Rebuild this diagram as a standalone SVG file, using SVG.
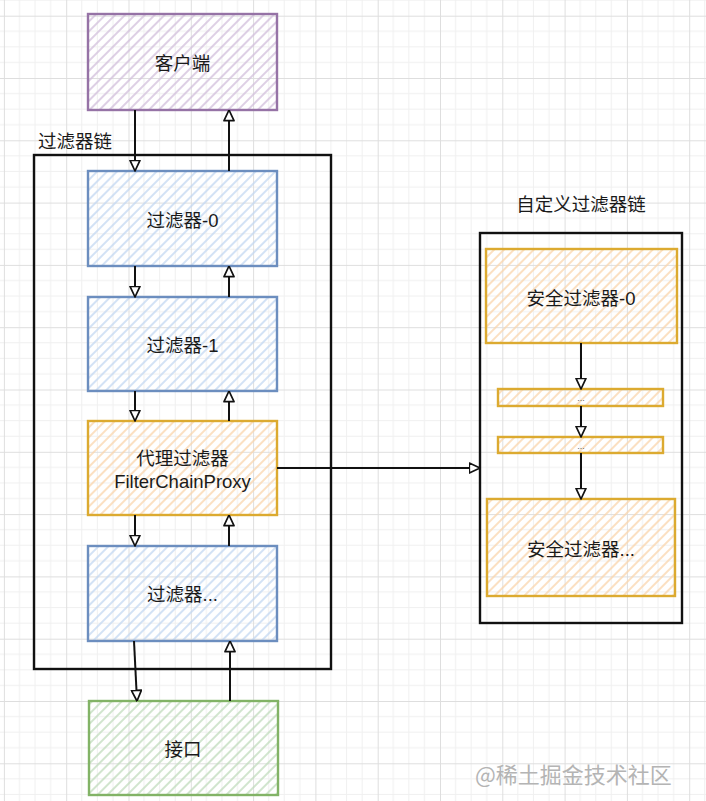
<svg xmlns="http://www.w3.org/2000/svg" width="706" height="801" viewBox="0 0 706 801">
<defs>
<pattern id="grid" patternUnits="userSpaceOnUse" x="3.9" y="15.7" width="62.3" height="62.3">
<path d="M15.575 0V62.3M31.15 0V62.3M46.725 0V62.3M0 15.575H62.3M0 31.15H62.3M0 46.725H62.3" stroke="#f0f0f0" stroke-width="1" fill="none"/>
<path d="M0.5 0V62.3M0 0.5H62.3" stroke="#dedede" stroke-width="1" fill="none"/>
</pattern>
<pattern id="hp" patternUnits="userSpaceOnUse" width="7" height="7" patternTransform="rotate(45)"><line x1="1" y1="0" x2="1" y2="7" stroke="#d3c0dc" stroke-width="1.5"/></pattern>
<pattern id="hb" patternUnits="userSpaceOnUse" width="7" height="7" patternTransform="rotate(45)"><line x1="1" y1="0" x2="1" y2="7" stroke="#c4d9f2" stroke-width="1.5"/></pattern>
<pattern id="ho" patternUnits="userSpaceOnUse" width="7" height="7" patternTransform="rotate(45)"><line x1="1" y1="0" x2="1" y2="7" stroke="#fad6ad" stroke-width="1.5"/></pattern>
<pattern id="hg" patternUnits="userSpaceOnUse" width="7" height="7" patternTransform="rotate(45)"><line x1="1" y1="0" x2="1" y2="7" stroke="#c2ddbd" stroke-width="1.5"/></pattern>
<marker id="arr" viewBox="0 0 12 12" refX="11.5" refY="6" markerWidth="12" markerHeight="12" markerUnits="userSpaceOnUse" orient="auto">
<path d="M0.8,1 L11.5,6 L0.8,11 Z" fill="#fff" stroke="#111" stroke-width="1.7" stroke-linejoin="round"/>
</marker>
</defs>
<style>
.t{font-family:"Helvetica","Liberation Sans","Noto Sans CJK SC",sans-serif;font-size:18.5px;fill:#1a1a1a;text-anchor:middle;dominant-baseline:central}
.tl{font-family:"Helvetica","Liberation Sans","Noto Sans CJK SC",sans-serif;font-size:18.5px;fill:#1a1a1a}
.purple{fill:url(#hp);stroke:#9673a6;stroke-width:2.4}
.blue{fill:url(#hb);stroke:#6c8ebf;stroke-width:2.4}
.orange{fill:url(#ho);stroke:#dcaa30;stroke-width:2.4}
.green{fill:url(#hg);stroke:#82b366;stroke-width:2.4}
.frame{fill:none;stroke:#111;stroke-width:2.4}
.c{fill:none;stroke:#111;stroke-width:2;marker-end:url(#arr)}
.wm{font-family:"Noto Sans CJK SC","Liberation Sans",sans-serif;font-size:22px;fill:#b4b4b4}
</style>
<rect width="706" height="801" fill="#fff"/>
<rect width="706" height="801" fill="url(#grid)"/>

<g id="chain">
<rect class="frame" x="34" y="155" width="297" height="514"/>
<text class="tl" x="38" y="148">过滤器链</text>
</g>
<g id="custom-chain">
<rect class="frame" x="480" y="233" width="202" height="390"/>
<text class="t" x="581" y="204">自定义过滤器链</text>
</g>

<g id="client">
<rect class="purple" x="88" y="14" width="189" height="96"/>
<text class="t" x="182.5" y="63">客户端</text>
</g>
<g id="filter0">
<rect class="blue" x="88" y="171" width="189" height="95"/>
<text class="t" x="182.5" y="220">过滤器-0</text>
</g>
<g id="filter1">
<rect class="blue" x="88" y="297" width="189" height="94"/>
<text class="t" x="182.5" y="345">过滤器-1</text>
</g>
<g id="proxy">
<rect class="orange" x="88" y="421" width="189" height="94"/>
<text class="t" x="182.5" y="458">代理过滤器</text>
<text class="t" x="182.5" y="481">FilterChainProxy</text>
</g>
<g id="filterN">
<rect class="blue" x="88" y="546" width="189" height="95"/>
<text class="t" x="182.5" y="594">过滤器...</text>
</g>
<g id="api">
<rect class="green" x="89" y="701" width="189" height="94"/>
<text class="t" x="183" y="749">接口</text>
</g>
<g id="sec0">
<rect class="orange" x="486" y="249" width="191" height="94"/>
<text class="t" x="581" y="298">安全过滤器-0</text>
</g>
<g id="bar1">
<rect class="orange" x="498" y="389" width="165" height="17"/>
<text x="581" y="401" font-family="Liberation Sans,sans-serif" font-size="9" fill="#666" text-anchor="middle">...</text>
</g>
<g id="bar2">
<rect class="orange" x="498" y="437" width="165" height="16"/>
<text x="581" y="449" font-family="Liberation Sans,sans-serif" font-size="9" fill="#666" text-anchor="middle">...</text>
</g>
<g id="secN">
<rect class="orange" x="487" y="499" width="188" height="97"/>
<text class="t" x="581" y="549">安全过滤器...</text>
</g>

<g id="connectors">
<path class="c" d="M135 110V171"/>
<path class="c" d="M229 171V110"/>
<path class="c" d="M135 266V297"/>
<path class="c" d="M229 297V266"/>
<path class="c" d="M135 391V421"/>
<path class="c" d="M229 421V391"/>
<path class="c" d="M135 515V546"/>
<path class="c" d="M229 546V515"/>
<path class="c" d="M134 641L137 701"/>
<path class="c" d="M230 701V641"/>
<path class="c" d="M277 468H480"/>
<path class="c" d="M581 343V389"/>
<path class="c" d="M581 406V437"/>
<path class="c" d="M581 453V499"/>
</g>

<text class="wm" x="475" y="783">@稀土掘金技术社区</text>
</svg>
